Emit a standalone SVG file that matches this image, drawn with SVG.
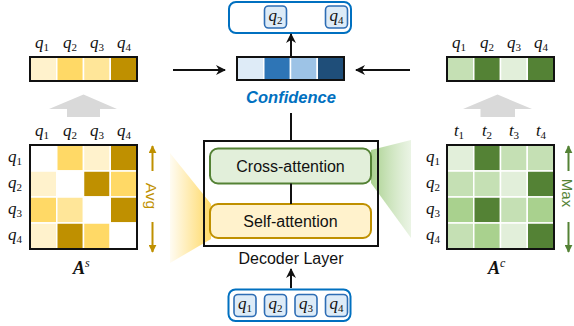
<svg xmlns="http://www.w3.org/2000/svg" width="574" height="326" viewBox="0 0 574 326">
  <defs>
    <style>
      .math { font-family: "Liberation Serif", "DejaVu Serif", serif; font-style: italic; font-size: 17px; fill: #111; }
      .sub { font-size: 11px; font-style: normal; }
      .lbl { font-family: "Liberation Sans", Arial, sans-serif; font-size: 16px; fill: #111; }
      .frame { fill: none; stroke: #111; stroke-width: 2; }
      .cell { stroke: #fff; stroke-width: 1.5; }
      .qbox { fill: #DDEBF7; stroke: #2E6DB4; stroke-width: 1.6; }
      .wire { stroke: #111; stroke-width: 2; fill: none; }
      .y0 { fill: #FFF2CC; } .y1 { fill: #FFE699; } .y2 { fill: #FFD966; } .y3 { fill: #BF9000; }
      .g0 { fill: #E2EFDA; } .g1 { fill: #C5E0B4; } .g2 { fill: #A9D18E; } .g3 { fill: #548235; }
      .w { fill: #fff; }
    </style>
    <marker id="arrowBlack" viewBox="0 0 10 10" refX="9" refY="5" markerWidth="10" markerHeight="10" orient="auto" markerUnits="userSpaceOnUse">
      <path d="M0,0 L10,5 L0,10 L3,5 z" fill="#111"/>
    </marker>
    <marker id="arrowGold" viewBox="0 0 10 10" refX="9" refY="5" markerWidth="8" markerHeight="8" orient="auto" markerUnits="userSpaceOnUse">
      <path d="M0,0 L10,5 L0,10 z" fill="#BF9000"/>
    </marker>
    <marker id="arrowGreen" viewBox="0 0 10 10" refX="9" refY="5" markerWidth="8" markerHeight="8" orient="auto" markerUnits="userSpaceOnUse">
      <path d="M0,0 L10,5 L0,10 z" fill="#548235"/>
    </marker>
    <linearGradient id="fanYellow" x1="170" y1="0" x2="211" y2="0" gradientUnits="userSpaceOnUse">
      <stop offset="0" stop-color="#FFD966" stop-opacity="0.08"/>
      <stop offset="1" stop-color="#FFD966" stop-opacity="1"/>
    </linearGradient>
    <linearGradient id="fanGreen" x1="371" y1="0" x2="411" y2="0" gradientUnits="userSpaceOnUse">
      <stop offset="0" stop-color="#A9D18E" stop-opacity="1"/>
      <stop offset="1" stop-color="#C5E0B4" stop-opacity="0.35"/>
    </linearGradient>
  </defs>

  <!-- attention fans -->
  <g id="fans">
    <polygon points="170,153 211,204 211,239 170,263" fill="url(#fanYellow)"/>
    <polygon points="371,150 411,140 411,238 371,183" fill="url(#fanGreen)"/>
  </g>

  <!-- self-attention map A^s -->
  <g id="matrix-self">
    <rect x="30" y="145" width="107" height="104" fill="#fff"/>
    <rect class="cell w"  x="30"     y="145" width="26.75" height="26"/>
    <rect class="cell y2" x="56.75"  y="145" width="26.75" height="26"/>
    <rect class="cell y0" x="83.5"   y="145" width="26.75" height="26"/>
    <rect class="cell y3" x="110.25" y="145" width="26.75" height="26"/>
    <rect class="cell y0" x="30"     y="171" width="26.75" height="26"/>
    <rect class="cell w"  x="56.75"  y="171" width="26.75" height="26"/>
    <rect class="cell y3" x="83.5"   y="171" width="26.75" height="26"/>
    <rect class="cell y2" x="110.25" y="171" width="26.75" height="26"/>
    <rect class="cell y2" x="30"     y="197" width="26.75" height="26"/>
    <rect class="cell y1" x="56.75"  y="197" width="26.75" height="26"/>
    <rect class="cell w"  x="83.5"   y="197" width="26.75" height="26"/>
    <rect class="cell y3" x="110.25" y="197" width="26.75" height="26"/>
    <rect class="cell y0" x="30"     y="223" width="26.75" height="26"/>
    <rect class="cell y3" x="56.75"  y="223" width="26.75" height="26"/>
    <rect class="cell y2" x="83.5"   y="223" width="26.75" height="26"/>
    <rect class="cell w"  x="110.25" y="223" width="26.75" height="26"/>
    <rect class="frame" x="30" y="145" width="107" height="104"/>
    <text class="math" x="42"  y="135.5" text-anchor="middle">q<tspan class="sub" dy="3">1</tspan></text>
    <text class="math" x="70"  y="135.5" text-anchor="middle">q<tspan class="sub" dy="3">2</tspan></text>
    <text class="math" x="97"  y="135.5" text-anchor="middle">q<tspan class="sub" dy="3">3</tspan></text>
    <text class="math" x="124" y="135.5" text-anchor="middle">q<tspan class="sub" dy="3">4</tspan></text>
    <text class="math" x="15" y="161.5" text-anchor="middle">q<tspan class="sub" dy="3">1</tspan></text>
    <text class="math" x="15" y="187.5" text-anchor="middle">q<tspan class="sub" dy="3">2</tspan></text>
    <text class="math" x="15" y="213.5" text-anchor="middle">q<tspan class="sub" dy="3">3</tspan></text>
    <text class="math" x="15" y="239.5" text-anchor="middle">q<tspan class="sub" dy="3">4</tspan></text>
    <text x="73" y="274" font-family="Liberation Serif, serif" font-size="18" font-weight="bold" font-style="italic" fill="#111">A<tspan font-weight="normal" font-size="12" dy="-7">s</tspan></text>
    <!-- averaging indicator -->
    <line x1="152.5" y1="171" x2="152.5" y2="146" stroke="#BF9000" stroke-width="2" marker-end="url(#arrowGold)"/>
    <line x1="152.5" y1="222" x2="152.5" y2="252" stroke="#BF9000" stroke-width="2" marker-end="url(#arrowGold)"/>
    <text transform="translate(145.5,196) rotate(90)" text-anchor="middle" font-family="Liberation Sans, Arial, sans-serif" font-size="15.5" fill="#BF9000">Avg</text>
  </g>

  <!-- averaged self-attention scores -->
  <g id="bar-self">
    <rect class="cell y0" x="30"     y="57" width="26.75" height="24"/>
    <rect class="cell y2" x="56.75"  y="57" width="26.75" height="24"/>
    <rect class="cell y1" x="83.5"   y="57" width="26.75" height="24"/>
    <rect class="cell y3" x="110.25" y="57" width="26.75" height="24"/>
    <rect class="frame" x="30" y="57" width="107" height="24"/>
    <text class="math" x="42"  y="47.5" text-anchor="middle">q<tspan class="sub" dy="3">1</tspan></text>
    <text class="math" x="70"  y="47.5" text-anchor="middle">q<tspan class="sub" dy="3">2</tspan></text>
    <text class="math" x="97"  y="47.5" text-anchor="middle">q<tspan class="sub" dy="3">3</tspan></text>
    <text class="math" x="124" y="47.5" text-anchor="middle">q<tspan class="sub" dy="3">4</tspan></text>
  </g>

  <!-- cross-attention map A^c -->
  <g id="matrix-cross">
    <rect x="447" y="145" width="107" height="104" fill="#fff"/>
    <rect class="cell g0" x="447"    y="145" width="26.75" height="26"/>
    <rect class="cell g3" x="473.75" y="145" width="26.75" height="26"/>
    <rect class="cell g1" x="500.5"  y="145" width="26.75" height="26"/>
    <rect class="cell g1" x="527.25" y="145" width="26.75" height="26"/>
    <rect class="cell g1" x="447"    y="171" width="26.75" height="26"/>
    <rect class="cell g1" x="473.75" y="171" width="26.75" height="26"/>
    <rect class="cell g0" x="500.5"  y="171" width="26.75" height="26"/>
    <rect class="cell g3" x="527.25" y="171" width="26.75" height="26"/>
    <rect class="cell g2" x="447"    y="197" width="26.75" height="26"/>
    <rect class="cell g3" x="473.75" y="197" width="26.75" height="26"/>
    <rect class="cell g1" x="500.5"  y="197" width="26.75" height="26"/>
    <rect class="cell g2" x="527.25" y="197" width="26.75" height="26"/>
    <rect class="cell g1" x="447"    y="223" width="26.75" height="26"/>
    <rect class="cell g2" x="473.75" y="223" width="26.75" height="26"/>
    <rect class="cell g0" x="500.5"  y="223" width="26.75" height="26"/>
    <rect class="cell g3" x="527.25" y="223" width="26.75" height="26"/>
    <rect class="frame" x="447" y="145" width="107" height="104"/>
    <text class="math" x="459" y="135.5" text-anchor="middle">t<tspan class="sub" dy="3">1</tspan></text>
    <text class="math" x="487" y="135.5" text-anchor="middle">t<tspan class="sub" dy="3">2</tspan></text>
    <text class="math" x="514" y="135.5" text-anchor="middle">t<tspan class="sub" dy="3">3</tspan></text>
    <text class="math" x="541" y="135.5" text-anchor="middle">t<tspan class="sub" dy="3">4</tspan></text>
    <text class="math" x="433" y="161.5" text-anchor="middle">q<tspan class="sub" dy="3">1</tspan></text>
    <text class="math" x="433" y="187.5" text-anchor="middle">q<tspan class="sub" dy="3">2</tspan></text>
    <text class="math" x="433" y="213.5" text-anchor="middle">q<tspan class="sub" dy="3">3</tspan></text>
    <text class="math" x="433" y="239.5" text-anchor="middle">q<tspan class="sub" dy="3">4</tspan></text>
    <text x="488" y="274" font-family="Liberation Serif, serif" font-size="18" font-weight="bold" font-style="italic" fill="#111">A<tspan font-weight="normal" font-size="12" dy="-7">c</tspan></text>
    <!-- max-pooling indicator -->
    <line x1="568.5" y1="171" x2="568.5" y2="146" stroke="#548235" stroke-width="2" marker-end="url(#arrowGreen)"/>
    <line x1="568.5" y1="222" x2="568.5" y2="252" stroke="#548235" stroke-width="2" marker-end="url(#arrowGreen)"/>
    <text transform="translate(561.5,193) rotate(90)" text-anchor="middle" font-family="Liberation Sans, Arial, sans-serif" font-size="15" fill="#548235">Max</text>
  </g>

  <!-- max-pooled cross-attention scores -->
  <g id="bar-cross">
    <rect class="cell g1" x="447"    y="57" width="26.75" height="24"/>
    <rect class="cell g3" x="473.75" y="57" width="26.75" height="24"/>
    <rect class="cell g0" x="500.5"  y="57" width="26.75" height="24"/>
    <rect class="cell g3" x="527.25" y="57" width="26.75" height="24"/>
    <rect class="frame" x="447" y="57" width="107" height="24"/>
    <text class="math" x="459" y="47.5" text-anchor="middle">q<tspan class="sub" dy="3">1</tspan></text>
    <text class="math" x="487" y="47.5" text-anchor="middle">q<tspan class="sub" dy="3">2</tspan></text>
    <text class="math" x="514" y="47.5" text-anchor="middle">q<tspan class="sub" dy="3">3</tspan></text>
    <text class="math" x="541" y="47.5" text-anchor="middle">q<tspan class="sub" dy="3">4</tspan></text>
  </g>

  <!-- fused confidence -->
  <g id="confidence">
    <rect class="cell" x="237"    y="57" width="26.75" height="23" fill="#DEEBF7"/>
    <rect class="cell" x="263.75" y="57" width="26.75" height="23" fill="#2E75B6"/>
    <rect class="cell" x="290.5"  y="57" width="26.75" height="23" fill="#9DC3E6"/>
    <rect class="cell" x="317.25" y="57" width="26.75" height="23" fill="#1F4E79"/>
    <rect class="frame" x="237" y="57" width="107" height="23"/>
    <text x="291" y="103" text-anchor="middle" font-family="Liberation Sans, Arial, sans-serif" font-size="16.5" font-weight="bold" font-style="italic" fill="#0070C0">Confidence</text>
  </g>

  <!-- decoder layer -->
  <g id="decoder">
    <rect class="frame" x="204" y="141" width="174" height="105"/>
    <text class="lbl" x="291" y="264" text-anchor="middle" font-size="16.5">Decoder Layer</text>
  </g>
  <g id="cross-attention">
    <rect x="210" y="148.5" width="161" height="35" rx="8" fill="#E2EFDA" stroke="#548235" stroke-width="2"/>
    <text class="lbl" x="290.5" y="171.5" text-anchor="middle">Cross-attention</text>
  </g>
  <g id="self-attention">
    <rect x="210" y="204" width="161" height="34" rx="8" fill="#FFF2CC" stroke="#BF9000" stroke-width="2"/>
    <text class="lbl" x="290.5" y="226.5" text-anchor="middle">Self-attention</text>
  </g>

  <!-- input queries -->
  <g id="queries-in">
    <rect x="228.5" y="289.5" width="122" height="31.5" rx="7" fill="#fff" stroke="#0070C0" stroke-width="2"/>
    <rect class="qbox" x="234"   y="294.5" width="22" height="22" rx="4"/>
    <rect class="qbox" x="264.5" y="294.5" width="22" height="22" rx="4"/>
    <rect class="qbox" x="295"   y="294.5" width="22" height="22" rx="4"/>
    <rect class="qbox" x="325.5" y="294.5" width="22" height="22" rx="4"/>
    <text class="math" x="245" y="308.5" text-anchor="middle">q<tspan class="sub" dy="3">1</tspan></text>
    <text class="math" x="275.5" y="308.5" text-anchor="middle">q<tspan class="sub" dy="3">2</tspan></text>
    <text class="math" x="306" y="308.5" text-anchor="middle">q<tspan class="sub" dy="3">3</tspan></text>
    <text class="math" x="336.5" y="308.5" text-anchor="middle">q<tspan class="sub" dy="3">4</tspan></text>
  </g>

  <!-- selected queries -->
  <g id="queries-out">
    <rect x="229" y="2" width="122" height="31" rx="7" fill="#fff" stroke="#0070C0" stroke-width="2"/>
    <rect class="qbox" x="264.5" y="6" width="22" height="22" rx="4"/>
    <rect class="qbox" x="325.5" y="6" width="22" height="22" rx="4"/>
    <text class="math" x="275.5" y="20.5" text-anchor="middle">q<tspan class="sub" dy="3">2</tspan></text>
    <text class="math" x="336.5" y="20.5" text-anchor="middle">q<tspan class="sub" dy="3">4</tspan></text>
  </g>

  <!-- connectors -->
  <g id="connectors">
    <line class="wire" x1="291" y1="113" x2="291" y2="141"/>
    <line class="wire" x1="291" y1="183.5" x2="291" y2="204"/>
    <line class="wire" x1="291" y1="56" x2="291" y2="34" marker-end="url(#arrowBlack)"/>
    <line class="wire" x1="291" y1="288" x2="291" y2="269" marker-end="url(#arrowBlack)"/>
    <line class="wire" x1="173" y1="70" x2="225" y2="70" marker-end="url(#arrowBlack)"/>
    <line class="wire" x1="410" y1="70" x2="356" y2="70" marker-end="url(#arrowBlack)"/>
    <polygon points="49,109 83.5,94.5 117,109 100,109 100,117 67,117 67,109" fill="#D9D9D9"/>
    <polygon points="463,109 497.5,94.5 532,109 515,109 515,117 480.5,117 480.5,109" fill="#D9D9D9"/>
  </g>
</svg>
